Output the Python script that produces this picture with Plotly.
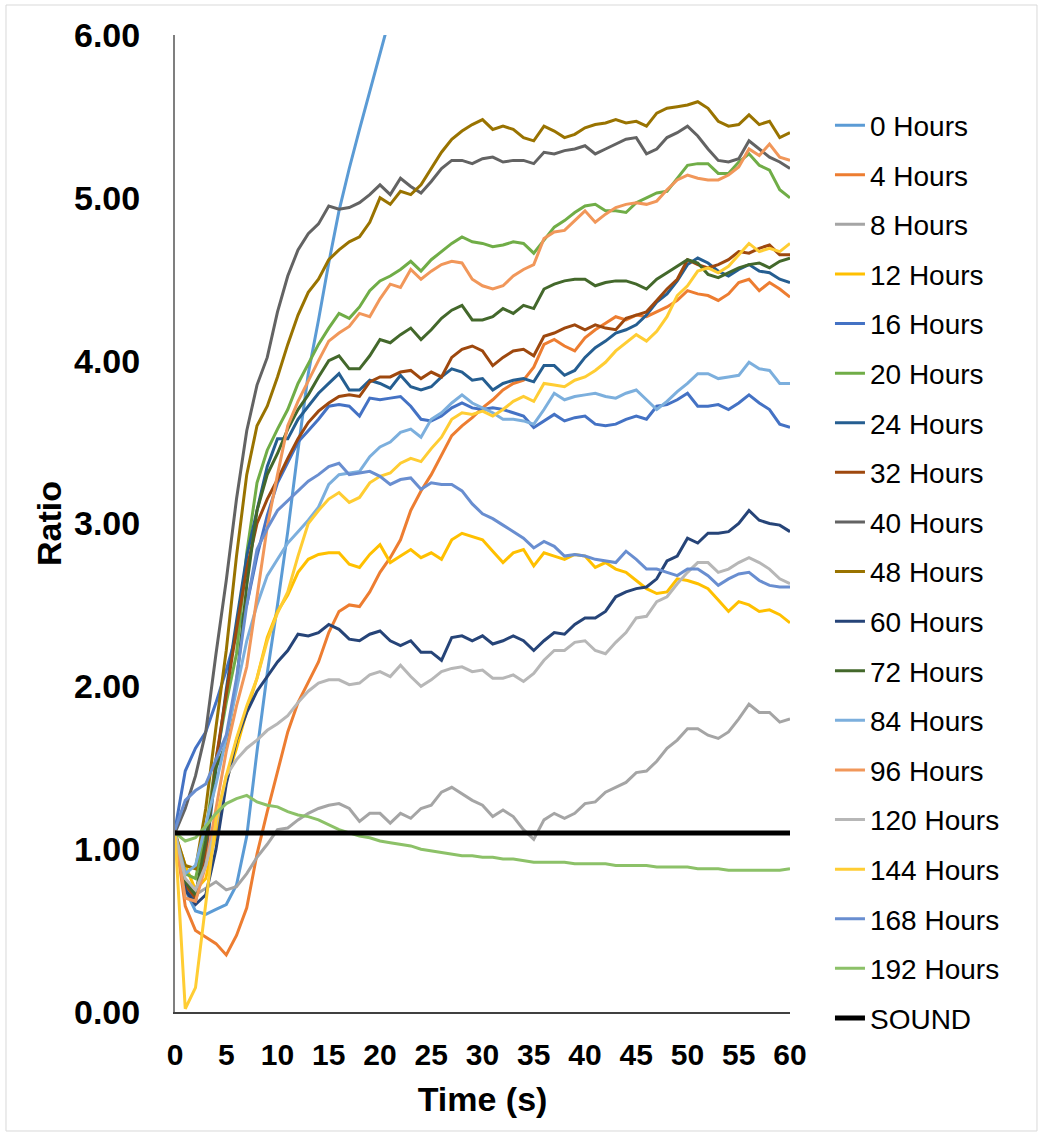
import plotly.graph_objects as go

# Time axis (seconds), one reading per second
time_s = list(range(0, 61))

h0 = [1.10, 0.75, 0.62, 0.60, 0.63, 0.66, 0.78, 1.08, 1.60, 2.08, 2.50, 2.95, 3.45, 3.92, 4.25,
      4.60, 4.92, 5.18, 5.42, 5.65, 5.88, 6.12, 6.35]
h4 = [1.10, 0.65, 0.50, 0.46, 0.42, 0.35, 0.47, 0.64, 0.97, 1.23, 1.48, 1.72, 1.90, 2.03, 2.15,
      2.33, 2.46, 2.50, 2.49, 2.58, 2.70, 2.79, 2.90, 3.08, 3.20, 3.30, 3.42, 3.54, 3.60, 3.65,
      3.71, 3.76, 3.82, 3.86, 3.88, 3.96, 4.10, 4.13, 4.09, 4.06, 4.14, 4.19, 4.23, 4.27, 4.25,
      4.28, 4.27, 4.30, 4.33, 4.37, 4.43, 4.41, 4.40, 4.37, 4.41, 4.48, 4.50, 4.43, 4.48, 4.44, 4.39]
h8 = [1.10, 0.80, 0.72, 0.76, 0.80, 0.75, 0.77, 0.85, 0.95, 1.03, 1.12, 1.13, 1.18, 1.22, 1.25,
      1.27, 1.28, 1.25, 1.17, 1.22, 1.22, 1.16, 1.22, 1.19, 1.25, 1.27, 1.35, 1.38, 1.34, 1.30,
      1.27, 1.20, 1.24, 1.20, 1.12, 1.06, 1.18, 1.22, 1.19, 1.22, 1.28, 1.29, 1.35, 1.38, 1.41,
      1.47, 1.48, 1.54, 1.62, 1.67, 1.74, 1.74, 1.70, 1.68, 1.72, 1.80, 1.89, 1.84, 1.84, 1.78, 1.80]
h12 = [1.10, 0.90, 0.75, 0.82, 1.10, 1.42, 1.62, 1.85, 2.05, 2.30, 2.46, 2.56, 2.70, 2.78, 2.81,
       2.82, 2.82, 2.75, 2.73, 2.81, 2.87, 2.76, 2.80, 2.84, 2.79, 2.82, 2.78, 2.90, 2.94, 2.92,
       2.90, 2.83, 2.76, 2.82, 2.84, 2.74, 2.82, 2.80, 2.78, 2.81, 2.80, 2.73, 2.76, 2.72, 2.70,
       2.65, 2.60, 2.57, 2.58, 2.66, 2.65, 2.63, 2.60, 2.53, 2.46, 2.52, 2.50, 2.46, 2.47, 2.44, 2.39]
h16 = [1.12, 1.48, 1.62, 1.72, 1.90, 2.10, 2.32, 2.50, 2.80, 3.05, 3.25, 3.38, 3.50, 3.57, 3.64,
       3.72, 3.73, 3.72, 3.66, 3.77, 3.76, 3.77, 3.78, 3.72, 3.64, 3.63, 3.66, 3.71, 3.74, 3.71,
       3.70, 3.71, 3.70, 3.68, 3.66, 3.59, 3.63, 3.67, 3.63, 3.65, 3.66, 3.61, 3.60, 3.61, 3.64,
       3.66, 3.64, 3.72, 3.73, 3.76, 3.80, 3.72, 3.72, 3.73, 3.70, 3.74, 3.79, 3.74, 3.70, 3.61, 3.59]
h20 = [1.10, 0.85, 0.82, 1.10, 1.55, 1.90, 2.20, 2.82, 3.25, 3.45, 3.58, 3.70, 3.86, 3.98, 4.10,
       4.20, 4.29, 4.26, 4.33, 4.43, 4.49, 4.52, 4.56, 4.61, 4.55, 4.62, 4.67, 4.72, 4.76, 4.73,
       4.72, 4.70, 4.71, 4.73, 4.72, 4.66, 4.74, 4.82, 4.86, 4.91, 4.95, 4.96, 4.92, 4.92, 4.91,
       4.97, 5.00, 5.03, 5.04, 5.12, 5.20, 5.21, 5.21, 5.15, 5.15, 5.22, 5.27, 5.20, 5.17, 5.05, 5.00]
h24 = [1.10, 0.75, 0.68, 0.95, 1.50, 1.98, 2.40, 2.80, 3.08, 3.35, 3.52, 3.52, 3.64, 3.72, 3.80,
       3.86, 3.92, 3.82, 3.82, 3.88, 3.86, 3.83, 3.91, 3.84, 3.82, 3.84, 3.90, 3.95, 3.93, 3.88,
       3.89, 3.82, 3.86, 3.88, 3.89, 3.87, 3.97, 3.97, 3.91, 3.94, 4.02, 4.08, 4.12, 4.17, 4.19,
       4.22, 4.28, 4.36, 4.41, 4.49, 4.59, 4.63, 4.60, 4.55, 4.52, 4.56, 4.59, 4.55, 4.54, 4.50, 4.48]
h32 = [1.10, 0.78, 0.70, 1.00, 1.55, 1.95, 2.35, 2.72, 3.00, 3.15, 3.27, 3.40, 3.52, 3.62, 3.69,
       3.74, 3.78, 3.79, 3.78, 3.87, 3.90, 3.90, 3.93, 3.94, 3.89, 3.93, 3.90, 4.02, 4.07, 4.09,
       4.06, 3.97, 4.02, 4.06, 4.07, 4.03, 4.15, 4.17, 4.20, 4.22, 4.19, 4.22, 4.20, 4.19, 4.26,
       4.28, 4.30, 4.37, 4.44, 4.50, 4.62, 4.59, 4.57, 4.59, 4.62, 4.67, 4.66, 4.69, 4.71, 4.65, 4.65]
h40 = [1.10, 1.25, 1.45, 1.72, 2.20, 2.65, 3.15, 3.57, 3.85, 4.02, 4.30, 4.52, 4.68, 4.78, 4.84,
       4.95, 4.93, 4.94, 4.97, 5.02, 5.08, 5.02, 5.12, 5.07, 5.03, 5.10, 5.18, 5.23, 5.23, 5.21,
       5.24, 5.25, 5.22, 5.23, 5.23, 5.21, 5.28, 5.27, 5.29, 5.30, 5.32, 5.27, 5.30, 5.33, 5.36,
       5.37, 5.27, 5.30, 5.37, 5.40, 5.44, 5.38, 5.30, 5.23, 5.22, 5.24, 5.35, 5.30, 5.25, 5.22, 5.18]
h48 = [1.10, 0.90, 0.88, 1.25, 1.75, 2.22, 2.80, 3.30, 3.60, 3.72, 3.90, 4.10, 4.28, 4.42, 4.50,
       4.62, 4.68, 4.73, 4.76, 4.85, 5.00, 4.96, 5.04, 5.02, 5.08, 5.18, 5.28, 5.36, 5.41, 5.45,
       5.48, 5.42, 5.44, 5.42, 5.37, 5.35, 5.44, 5.41, 5.37, 5.39, 5.43, 5.45, 5.46, 5.48, 5.46,
       5.47, 5.44, 5.52, 5.55, 5.56, 5.57, 5.59, 5.55, 5.47, 5.44, 5.45, 5.51, 5.45, 5.47, 5.37, 5.40]
h60 = [1.10, 0.75, 0.66, 0.72, 1.00, 1.40, 1.67, 1.84, 1.97, 2.06, 2.15, 2.22, 2.32, 2.31, 2.33,
       2.38, 2.35, 2.29, 2.28, 2.32, 2.34, 2.28, 2.25, 2.28, 2.21, 2.21, 2.16, 2.30, 2.31, 2.28,
       2.31, 2.26, 2.28, 2.31, 2.28, 2.22, 2.28, 2.33, 2.32, 2.38, 2.42, 2.42, 2.46, 2.55, 2.58,
       2.60, 2.61, 2.66, 2.77, 2.80, 2.91, 2.88, 2.94, 2.94, 2.95, 3.00, 3.08, 3.02, 3.00, 2.99, 2.95]
h72 = [1.10, 0.80, 0.72, 1.05, 1.50, 1.65, 2.02, 2.62, 3.08, 3.30, 3.43, 3.58, 3.70, 3.79, 3.90,
       4.00, 4.03, 3.95, 3.95, 4.03, 4.13, 4.11, 4.16, 4.20, 4.13, 4.19, 4.26, 4.31, 4.34, 4.25,
       4.25, 4.27, 4.32, 4.29, 4.34, 4.32, 4.44, 4.47, 4.49, 4.50, 4.50, 4.46, 4.48, 4.49, 4.49,
       4.47, 4.44, 4.50, 4.54, 4.58, 4.62, 4.60, 4.53, 4.51, 4.54, 4.57, 4.59, 4.60, 4.57, 4.61, 4.63]
h84 = [1.10, 0.85, 0.90, 1.15, 1.40, 1.68, 1.98, 2.28, 2.50, 2.68, 2.78, 2.88, 2.95, 3.02, 3.10,
       3.24, 3.30, 3.31, 3.32, 3.41, 3.47, 3.50, 3.56, 3.58, 3.53, 3.64, 3.68, 3.74, 3.79, 3.74,
       3.71, 3.68, 3.64, 3.64, 3.63, 3.61, 3.70, 3.80, 3.76, 3.78, 3.79, 3.80, 3.78, 3.77, 3.80,
       3.82, 3.76, 3.70, 3.75, 3.81, 3.86, 3.92, 3.92, 3.89, 3.90, 3.91, 3.99, 3.95, 3.94, 3.86, 3.86]
h96 = [1.10, 0.70, 0.68, 0.90, 1.25, 1.60, 1.88, 2.12, 2.55, 2.98, 3.30, 3.60, 3.75, 3.88, 4.00,
       4.12, 4.17, 4.21, 4.29, 4.27, 4.38, 4.47, 4.45, 4.56, 4.50, 4.55, 4.59, 4.61, 4.60, 4.50,
       4.46, 4.44, 4.46, 4.52, 4.56, 4.59, 4.75, 4.79, 4.80, 4.86, 4.92, 4.85, 4.90, 4.94, 4.96,
       4.97, 4.96, 4.98, 5.05, 5.11, 5.14, 5.12, 5.11, 5.11, 5.14, 5.19, 5.30, 5.26, 5.33, 5.25, 5.23]
h120 = [1.10, 0.82, 0.75, 0.90, 1.15, 1.45, 1.55, 1.62, 1.67, 1.73, 1.77, 1.82, 1.90, 1.97, 2.02,
        2.04, 2.04, 2.01, 2.02, 2.07, 2.09, 2.06, 2.13, 2.06, 2.00, 2.04, 2.09, 2.11, 2.12, 2.09,
        2.10, 2.05, 2.05, 2.07, 2.03, 2.08, 2.16, 2.22, 2.22, 2.27, 2.28, 2.22, 2.20, 2.27, 2.33,
        2.42, 2.43, 2.52, 2.55, 2.63, 2.70, 2.76, 2.76, 2.70, 2.72, 2.76, 2.79, 2.76, 2.72, 2.66, 2.63]
h144 = [1.10, 0.02, 0.15, 0.68, 1.18, 1.45, 1.68, 1.88, 2.05, 2.28, 2.45, 2.58, 2.80, 3.00, 3.08,
        3.15, 3.19, 3.13, 3.16, 3.25, 3.29, 3.31, 3.37, 3.40, 3.38, 3.46, 3.53, 3.64, 3.68, 3.67,
        3.69, 3.66, 3.70, 3.75, 3.78, 3.75, 3.86, 3.85, 3.84, 3.88, 3.90, 3.94, 3.99, 4.06, 4.11,
        4.16, 4.12, 4.18, 4.27, 4.40, 4.46, 4.55, 4.57, 4.54, 4.58, 4.65, 4.72, 4.67, 4.69, 4.67, 4.72]
h168 = [1.12, 1.30, 1.36, 1.40, 1.55, 1.70, 2.05, 2.50, 2.84, 2.97, 3.08, 3.14, 3.20, 3.26, 3.30,
        3.35, 3.37, 3.30, 3.31, 3.32, 3.29, 3.24, 3.27, 3.28, 3.21, 3.25, 3.24, 3.24, 3.20, 3.12,
        3.06, 3.03, 2.99, 2.95, 2.91, 2.85, 2.89, 2.86, 2.80, 2.81, 2.80, 2.78, 2.77, 2.76, 2.83,
        2.78, 2.72, 2.72, 2.70, 2.68, 2.72, 2.72, 2.68, 2.62, 2.66, 2.69, 2.70, 2.65, 2.62, 2.61, 2.61]
h192 = [1.10, 1.05, 1.07, 1.14, 1.22, 1.28, 1.31, 1.33, 1.29, 1.27, 1.26, 1.23, 1.21, 1.20, 1.18,
        1.15, 1.12, 1.10, 1.08, 1.07, 1.05, 1.04, 1.03, 1.02, 1.00, 0.99, 0.98, 0.97, 0.96, 0.96,
        0.95, 0.95, 0.94, 0.94, 0.93, 0.92, 0.92, 0.92, 0.92, 0.91, 0.91, 0.91, 0.91, 0.90, 0.90,
        0.90, 0.90, 0.89, 0.89, 0.89, 0.89, 0.88, 0.88, 0.88, 0.87, 0.87, 0.87, 0.87, 0.87, 0.87, 0.88]

# Reference threshold line
sound_time = [0, 60]
sound = [1.1, 1.1]

series_names = ["0 Hours", "4 Hours", "8 Hours", "12 Hours", "16 Hours", "20 Hours",
                "24 Hours", "32 Hours", "40 Hours", "48 Hours", "60 Hours", "72 Hours",
                "84 Hours", "96 Hours", "120 Hours", "144 Hours", "168 Hours", "192 Hours"]
series_values = [h0, h4, h8, h12, h16, h20, h24, h32, h40, h48, h60, h72,
                 h84, h96, h120, h144, h168, h192]
series_colors = ["#5B9BD5", "#ED7D31", "#A5A5A5", "#FFC000", "#4472C4", "#70AD47",
                 "#255E91", "#9E480E", "#636363", "#997300", "#264478", "#43682B",
                 "#7CAFDD", "#F1975A", "#B7B7B7", "#FFCD33", "#698ED0", "#8CC168"]

fig = go.Figure()
for name, vals, col in zip(series_names, series_values, series_colors):
    fig.add_trace(go.Scatter(
        x=time_s[:len(vals)], y=vals, mode="lines", name=name,
        legendgroup=name, line=dict(color=col, width=3)))

fig.add_trace(go.Scatter(
    x=sound_time, y=sound, mode="lines", name="SOUND",
    legendgroup="SOUND", line=dict(color="#000000", width=5)))

# Thin frame around the whole chart area
fig.add_shape(type="rect", xref="paper", yref="paper",
              x0=-0.2748, x1=1.4016, y0=-0.1218, y1=1.0307,
              line=dict(color="#D9D9D9", width=1), fillcolor="rgba(0,0,0,0)", layer="below")

fig.update_layout(
    width=1043, height=1136,
    margin=dict(l=175, r=253, t=35, b=124),
    paper_bgcolor="white", plot_bgcolor="white",
    font=dict(family="Liberation Sans, Arial, sans-serif", color="#000000"),
    showlegend=True,
    legend=dict(
        x=1.065, xanchor="left", y=0.933, yanchor="top",
        font=dict(size=28, color="#000000"),
        tracegroupgap=10.2, bgcolor="rgba(0,0,0,0)", itemwidth=30,
    ),
    xaxis=dict(
        range=[0, 60], tickvals=list(range(0, 61, 5)),
        showgrid=False, zeroline=False,
        showline=True, linecolor="#404040", linewidth=2,
        ticks="", ticklabelstandoff=15,
        tickfont=dict(size=30, family="Liberation Sans, Arial, sans-serif", weight="bold"),
        title=dict(text="<b>Time (s)</b>", font=dict(size=34), standoff=17),
    ),
    yaxis=dict(
        range=[0, 6], tickvals=[0, 1, 2, 3, 4, 5, 6], tickformat=".2f",
        showgrid=False, zeroline=False,
        showline=True, linecolor="#7F7F7F", linewidth=2,
        ticks="", ticklabelstandoff=26,
        tickfont=dict(size=34, family="Liberation Sans, Arial, sans-serif", weight="bold"),
        title=dict(text="<b>Ratio</b>", font=dict(size=34), standoff=2),
    ),
)

fig.write_html("out.html")
